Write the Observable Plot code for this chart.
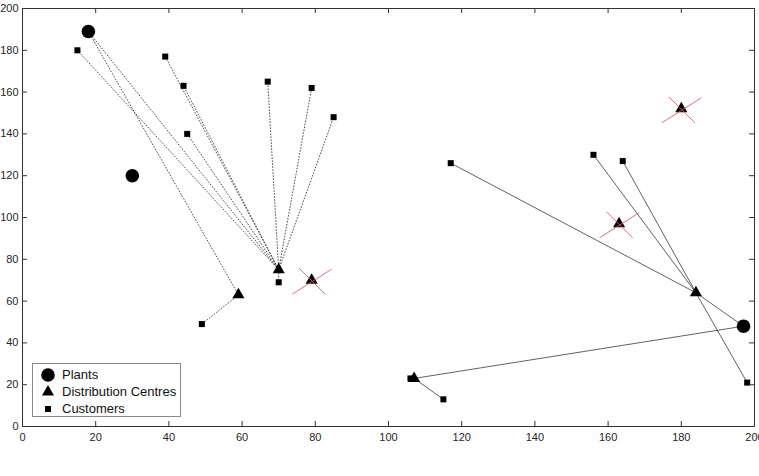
<!DOCTYPE html>
<html><head><meta charset="utf-8">
<script src="https://cdn.jsdelivr.net/npm/d3@7"></script>
<script src="https://cdn.jsdelivr.net/npm/@observablehq/plot@0.6"></script>
<style>
body{margin:0;background:#fff;}
#wrap{position:relative;width:759px;height:476px;}
#legend{position:absolute;left:32px;top:363px;width:149px;height:54px;border:1px solid #8a8a8a;background:#fff;box-sizing:border-box;font-family:"Liberation Sans",Arial,sans-serif;font-size:13px;color:#111;}
#legend svg{position:absolute;left:0;top:0;}
#legend .row{position:absolute;left:29px;height:17px;line-height:17px;white-space:nowrap;}
</style></head><body><div id="wrap"></div>
<script>
// ---- data ----
const plantX = [18, 30, 197];
const plantY = [189, 120, 48];

const dcX = [70, 59, 79, 184, 107, 163, 180];
const dcY = [75, 63, 70, 64, 23, 97, 152];
const dcClosed = [false, false, true, false, false, true, true];
const dcPlant = [0, 0, null, 2, 2, null, null]; // supplying plant index

const custX = [15, 39, 44, 45, 67, 79, 85, 70, 49, 117, 156, 164, 198, 106, 115];
const custY = [180, 177, 163, 140, 165, 162, 148, 69, 49, 126, 130, 127, 21, 23, 13];
const custDc = [0, 0, 0, 0, 0, 0, 0, 0, 1, 3, 3, 3, 3, 4, 4]; // serving DC index

const xTicks = [0, 20, 40, 60, 80, 100, 120, 140, 160, 180, 200];
const yTicks = [0, 20, 40, 60, 80, 100, 120, 140, 160, 180, 200];
const legendLabels = ["Plants", "Distribution Centres", "Customers"];

// ---- derived tables ----
const plants = plantX.map((x, i) => ({x, y: plantY[i]}));
const dcs = dcX.map((x, i) => ({x, y: dcY[i], closed: dcClosed[i], plant: dcPlant[i]}));
const customers = custX.map((x, i) => ({x, y: custY[i], dc: custDc[i]}));

const links = [];
dcs.forEach(d => {
  if (d.plant != null) {
    const p = plants[d.plant];
    links.push({x1: p.x, y1: p.y, x2: d.x, y2: d.y, dotted: d.plant === 0});
  }
});
customers.forEach(c => {
  const d = dcs[c.dc];
  links.push({x1: d.x, y1: d.y, x2: c.x, y2: c.y, dotted: d.plant === 0});
});

const crossSymbol = {
  draw(ctx) {
    ctx.moveTo(-19.5, 14); ctx.lineTo(20, -11);
    ctx.moveTo(-12.5, -12); ctx.lineTo(13.5, 14);
  }
};

const axisColor = "#333";
const plot = Plot.plot({
  width: 759, height: 476,
  marginLeft: 22, marginRight: 5, marginTop: 8, marginBottom: 50,
  x: {domain: [0, 200], label: null},
  y: {domain: [0, 200], label: null},
  style: {fontFamily: "'Liberation Sans', Arial, sans-serif", fontSize: "11px", color: "#262626", background: "#fff"},
  marks: [
    Plot.link(links.filter(l => l.dotted), {x1: "x1", y1: "y1", x2: "x2", y2: "y2", stroke: "#3a3a3a", strokeWidth: 0.9, strokeDasharray: "1.6,1.4"}),
    Plot.link(links.filter(l => !l.dotted), {x1: "x1", y1: "y1", x2: "x2", y2: "y2", stroke: "#3a3a3a", strokeWidth: 0.8}),
    Plot.dot(plants, {x: "x", y: "y", r: 6.8, symbol: "circle", fill: "black"}),
    Plot.dot(dcs, {x: "x", y: "y", r: 4.5, symbol: "triangle", fill: "black"}),
    Plot.dot(customers, {x: "x", y: "y", r: 3.4, symbol: "square", fill: "black"}),
    Plot.dot(dcs.filter(d => d.closed), {x: "x", y: "y", symbol: crossSymbol, fill: "none", stroke: "#dc5470", strokeWidth: 1, strokeOpacity: 0.85}),
    Plot.frame({stroke: axisColor}),
    Plot.ruleX(xTicks, {x: d => d, insetTop: 413, stroke: axisColor}),
    Plot.ruleX(xTicks, {x: d => d, insetBottom: 413, stroke: axisColor}),
    Plot.ruleY(yTicks, {y: d => d, insetRight: 727, stroke: axisColor}),
    Plot.ruleY(yTicks, {y: d => d, insetLeft: 727, stroke: axisColor}),
    Plot.axisX(xTicks, {tickSize: 0, tickPadding: 7, label: null}),
    Plot.axisY(yTicks, {tickSize: 0, tickPadding: 4, label: null})
  ]
});
const wrap = document.getElementById("wrap");
wrap.appendChild(plot);

// ---- legend ----
const legend = document.createElement("div");
legend.id = "legend";
const syms = [
  d3.symbol().type(d3.symbolCircle).size(Math.PI * 6.8 * 6.8)(),
  d3.symbol().type(d3.symbolTriangle).size(Math.PI * 4.5 * 4.5)(),
  d3.symbol().type(d3.symbolSquare).size(Math.PI * 3.4 * 3.4)()
];
const rowY = [11, 28, 45];
let svg = `<svg width="149" height="54">`;
syms.forEach((p, i) => { svg += `<path d="${p}" transform="translate(15,${rowY[i]})" fill="black"/>`; });
svg += `</svg>`;
legend.innerHTML = svg + legendLabels.map((t, i) => `<div class="row" style="top:${rowY[i] - 9}px">${t}</div>`).join("");
wrap.appendChild(legend);
</script></body></html>
